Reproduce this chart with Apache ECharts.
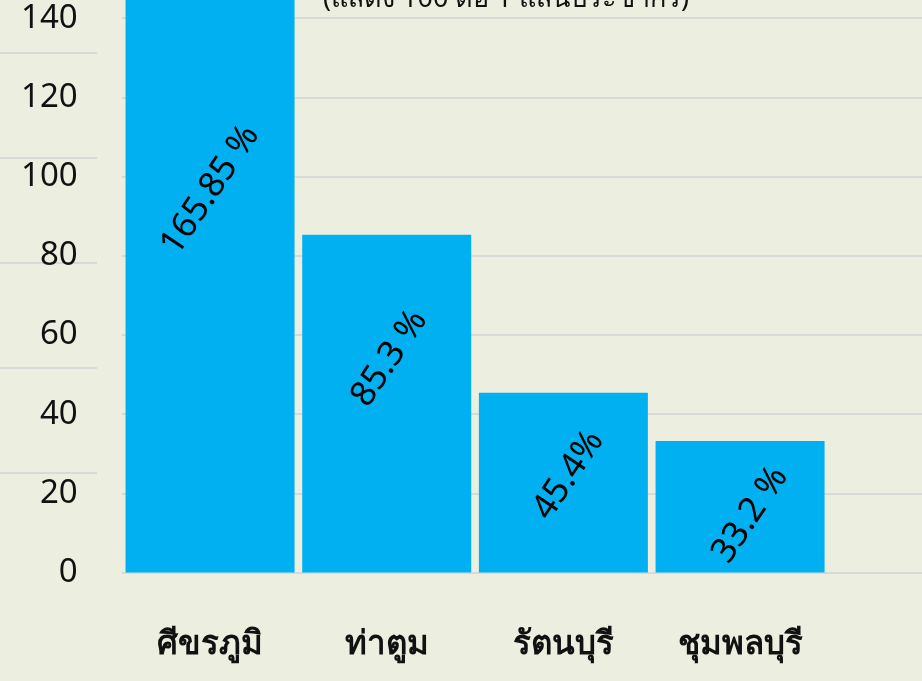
<!DOCTYPE html>
<html>
<head>
<meta charset="utf-8">
<script src="https://cdn.jsdelivr.net/npm/echarts@6/dist/echarts.min.js"></script>
<style>
html,body{margin:0;padding:0;background:#ECEFDF;}
#c{width:922px;height:681px;}
</style>
</head>
<body>
<div id="c"></div>
<script>
const categories = ['ศีขรภูมิ', 'ท่าตูม', 'รัตนบุรี', 'ชุมพลบุรี'];
const values = [165.85, 85.3, 45.4, 33.2];
const valueLabels = ['165.85 %', '85.3 %', '45.4%', '33.2 %'];
const titleText = '(แสดง 100 ต่อ 1 แสนประชากร)';

const chart = echarts.init(document.getElementById('c'), null, {renderer: 'canvas'});
const yMax = 200;
const gridTop = 572.5 - yMax * 3.96;
// label nudges along the rotated text (style only)
const labelNudge = [[45, -30], [39, -23], [9, 0], [-1, 13]];
const option = {
  backgroundColor: '#ECEFDF',
  animation: false,
  title: {
    text: titleText,
    left: 318,
    top: -19,
    textStyle: {fontFamily: 'Noto Sans', fontSize: 27, fontWeight: 'normal', color: '#111'}
  },
  grid: [
    {left: 121.7, right: 93.6, top: gridTop, bottom: 108.5, outerBoundsMode: 'none', containLabel: false},
    {left: 121.7, right: 0, top: gridTop, bottom: 108.5, outerBoundsMode: 'none', containLabel: false}
  ],
  xAxis: [
    {
      type: 'category', gridIndex: 0, data: categories,
      axisLine: {show: false}, axisTick: {show: false},
      axisLabel: {margin: 56, fontSize: 33, fontWeight: 'bold', color: '#111', fontFamily: 'Noto Sans'}
    },
    {type: 'value', gridIndex: 1, show: false, min: 0, max: 1}
  ],
  yAxis: [
    {
      type: 'value', gridIndex: 0, min: 0, max: yMax, interval: 20,
      axisLine: {show: false}, axisTick: {show: false}, splitLine: {show: false},
      axisLabel: {margin: 44, fontSize: 33, color: '#111', fontFamily: 'Noto Sans'}
    },
    {
      type: 'value', gridIndex: 1, min: 0, max: yMax, interval: 20,
      axisLine: {show: false}, axisTick: {show: false}, axisLabel: {show: false},
      splitLine: {show: true, lineStyle: {color: '#d9d9d9', width: 2}}
    }
  ],
  graphic: [53, 158, 263, 368, 473].map(y => ({
    type: 'line', shape: {x1: 0, y1: y, x2: 97, y2: y},
    style: {stroke: '#d9d9d9', lineWidth: 2}, z: 0
  })),
  series: [{
    type: 'bar', xAxisIndex: 0, yAxisIndex: 0,
    data: values.map((v, i) => ({value: v, label: {offset: labelNudge[i]}})),
    barWidth: 169,
    itemStyle: {color: '#00B0F0'},
    z: 3,
    label: {
      show: true, position: 'inside', rotate: 56,
      fontSize: 35, color: '#000', fontFamily: 'Noto Sans',
      formatter: p => valueLabels[p.dataIndex]
    }
  }]
};
chart.setOption(option);
</script>
</body>
</html>
